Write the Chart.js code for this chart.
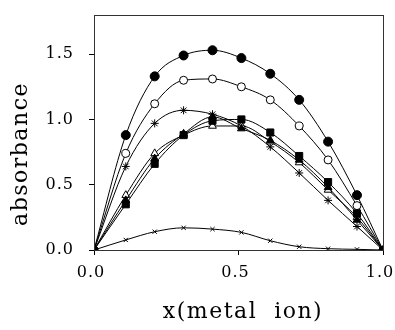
<!DOCTYPE html>
<html>
<head>
<meta charset="utf-8">
<script src="https://cdn.jsdelivr.net/npm/chart.js@4"></script>
<style>
  html, body { margin: 0; padding: 0; background: #fff; }
  #wrap { width: 395px; height: 330px; }
</style>
</head>
<body>
<div id="wrap"><canvas id="c" width="395" height="330"></canvas></div>
<script>
const xValues = [0, 0.11, 0.21, 0.31, 0.41, 0.51, 0.61, 0.71, 0.81, 0.91, 1.0];
const yTicks = [0, 0.5, 1.0, 1.5];
const xTicks = [0, 0.5, 1.0];

const filledCircle = [0, 0.88, 1.33, 1.49, 1.53, 1.47, 1.35, 1.15, 0.83, 0.42, 0];
const openCircle   = [0, 0.74, 1.12, 1.30, 1.31, 1.25, 1.15, 0.95, 0.69, 0.34, 0];
const star         = [0, 0.64, 0.97, 1.07, 1.04, 0.95, 0.79, 0.59, 0.38, 0.18, 0];
const openTri      = [0, 0.42, 0.74, 0.88, 0.95, 0.95, 0.83, 0.67, 0.46, 0.25, 0];
const filledSquare = [0, 0.35, 0.66, 0.88, 0.99, 1.00, 0.90, 0.72, 0.52, 0.28, 0];
const filledTri    = [0, 0.38, 0.70, 0.89, 1.02, 0.93, 0.84, 0.69, 0.48, 0.23, 0];
const cross        = [0, 0.077, 0.14, 0.17, 0.16, 0.135, 0.071, 0.025, 0.01, 0.005, 0];

const xTitle = 'x(metal  ion)';
const yTitle = 'absorbance';

const FONT = 'DejaVu Serif';

function series(values, style, radius, open) {
  return {
    data: values.map((y, i) => ({ x: xValues[i], y })),
    borderColor: '#000',
    borderWidth: 1,
    pointStyle: style,
    pointRadius: values.map((v, i) => (i === 0 || i === values.length - 1) ? 4 : radius),
    pointBackgroundColor: values.map((v, i) => (open && i > 0 && i < values.length - 1) ? '#fff' : '#000'),
    pointBorderColor: '#000',
    pointBorderWidth: 1,
    cubicInterpolationMode: 'monotone',
    fill: false
  };
}

// box around the plot + wide-set axis titles like the scanned figure
const frame = {
  id: 'frame',
  beforeDraw(chart) {
    chart.ctx.letterSpacing = '1px';
  },
  afterDraw(chart) {
    const { ctx, chartArea: a } = chart;
    ctx.save();
    ctx.strokeStyle = '#333';
    ctx.lineWidth = 1;
    ctx.strokeRect(a.left + 0.5, a.top + 0.5, a.right - a.left, a.bottom - a.top);

    ctx.fillStyle = '#000';
    ctx.font = '22px "' + FONT + '"';
    ctx.letterSpacing = '1.5px';
    ctx.textAlign = 'center';
    ctx.textBaseline = 'middle';
    ctx.fillText(xTitle, 243, 312);
    ctx.translate(21, 154);
    ctx.rotate(-Math.PI / 2);
    ctx.fillText(yTitle, 0, 0);
    ctx.restore();
  }
};

new Chart(document.getElementById('c'), {
  type: 'line',
  data: {
    datasets: [
      series(cross, 'crossRot', 3, false),
      series(filledSquare, 'rect', 5, false),
      series(filledTri, 'triangle', 4.5, false),
      series(openTri, 'triangle', 4.5, true),
      series(star, 'star', 4, false),
      series(openCircle, 'circle', 4, true),
      series(filledCircle, 'circle', 4.5, false)
    ]
  },
  plugins: [frame],
  options: {
    responsive: false,
    animation: false,
    layout: { padding: { top: 15, right: 12, left: 0, bottom: 0 } },
    plugins: { legend: { display: false }, tooltip: { enabled: false } },
    scales: {
      x: {
        type: 'linear',
        min: 0, max: 1.0,
        afterBuildTicks: s => { s.ticks = xTicks.map(v => ({ value: v })); },
        afterFit: s => { s.height = 80; s.paddingLeft = 0; s.paddingRight = 0; },
        grid: { drawOnChartArea: false, tickLength: 5, color: '#000' },
        border: { color: '#555', width: 1 },
        ticks: {
          color: '#000', font: { family: FONT, size: 16 }, padding: 8, labelOffset: -3,
          maxRotation: 0,
          callback: v => v.toFixed(1)
        }
      },
      y: {
        type: 'linear',
        min: 0, max: 1.8,
        afterBuildTicks: s => { s.ticks = yTicks.map(v => ({ value: v })); },
        afterFit: s => { s.width = 94; s.paddingTop = 0; s.paddingBottom = 0; },
        grid: { drawOnChartArea: false, tickLength: 5, color: '#000' },
        border: { color: '#555', width: 1 },
        ticks: {
          color: '#000', font: { family: FONT, size: 16 }, padding: 15,
          callback: v => v.toFixed(1)
        }
      }
    }
  }
});
</script>
</body>
</html>
